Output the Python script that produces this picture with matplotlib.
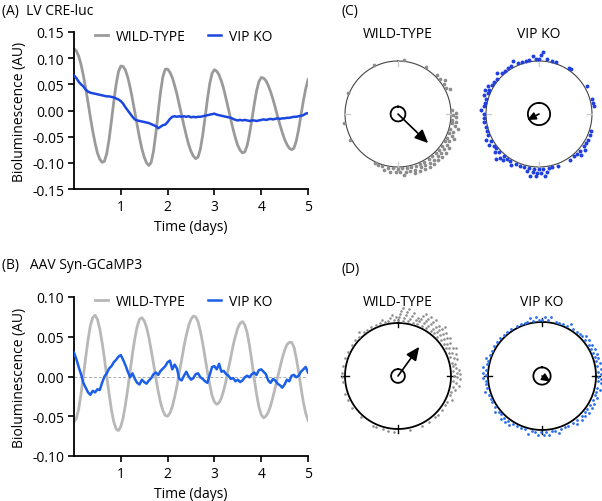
import numpy as np
import matplotlib
matplotlib.use("Agg")
import matplotlib.pyplot as plt

plt.rcParams["font.family"] = ["Open Sans", "DejaVu Sans"]
plt.rcParams["axes.unicode_minus"] = True

# ---- time series data (values read every 0.05 day, 0..5 days) ----
days = np.round(np.arange(0, 5.0001, 0.05), 2)

a_wt = [0.118, 0.114, 0.104, 0.088, 0.067, 0.042, 0.015, -0.013, -0.039, -0.062,
        -0.081, -0.093, -0.099, -0.097, -0.082, -0.055, -0.020, 0.017, 0.050, 0.074,
        0.085, 0.084, 0.077, 0.063, 0.044, 0.021, -0.003, -0.028, -0.052, -0.073,
        -0.089, -0.100, -0.105, -0.099, -0.077, -0.043, -0.002, 0.036, 0.065, 0.079,
        0.079, 0.073, 0.063, 0.048, 0.031, 0.011, -0.009, -0.029, -0.048, -0.065,
        -0.078, -0.087, -0.092, -0.089, -0.074, -0.047, -0.014, 0.021, 0.051, 0.071,
        0.078, 0.075, 0.068, 0.056, 0.041, 0.022, 0.003, -0.017, -0.036, -0.053,
        -0.067, -0.076, -0.081, -0.079, -0.067, -0.045, -0.018, 0.011, 0.037, 0.055,
        0.063, 0.062, 0.057, 0.048, 0.036, 0.022, 0.006, -0.011, -0.027, -0.042,
        -0.055, -0.065, -0.072, -0.075, -0.072, -0.058, -0.036, -0.009, 0.018, 0.041,
        0.059]

a_ko = [0.067, 0.062, 0.055, 0.050, 0.046, 0.040, 0.036, 0.034, 0.033, 0.032,
        0.031, 0.030, 0.029, 0.028, 0.027, 0.027, 0.026, 0.025, 0.023, 0.021,
        0.018, 0.013, 0.006, 0.000, -0.006, -0.012, -0.017, -0.019, -0.020, -0.021,
        -0.022, -0.023, -0.024, -0.026, -0.028, -0.030, -0.034, -0.031, -0.028, -0.027,
        -0.022, -0.016, -0.012, -0.011, -0.012, -0.011, -0.012, -0.011, -0.012, -0.011,
        -0.013, -0.012, -0.013, -0.012, -0.012, -0.011, -0.010, -0.009, -0.008, -0.007,
        -0.006, -0.008, -0.009, -0.010, -0.011, -0.012, -0.013, -0.014, -0.016, -0.018,
        -0.019, -0.018, -0.019, -0.018, -0.019, -0.020, -0.019, -0.019, -0.020, -0.019,
        -0.018, -0.017, -0.018, -0.017, -0.016, -0.017, -0.016, -0.015, -0.016, -0.015,
        -0.015, -0.014, -0.014, -0.013, -0.012, -0.012, -0.011, -0.010, -0.009, -0.006,
        -0.005]

b_wt = [-0.057, -0.053, -0.041, -0.022, 0.000, 0.024, 0.046, 0.064, 0.074, 0.077,
        0.072, 0.060, 0.043, 0.023, 0.000, -0.022, -0.042, -0.057, -0.066, -0.068,
        -0.063, -0.052, -0.035, -0.015, 0.007, 0.029, 0.048, 0.063, 0.072, 0.074,
        0.070, 0.062, 0.049, 0.033, 0.016, -0.002, -0.019, -0.033, -0.043, -0.049,
        -0.050, -0.046, -0.038, -0.026, -0.012, 0.005, 0.021, 0.038, 0.052, 0.064,
        0.072, 0.076, 0.075, 0.069, 0.057, 0.042, 0.024, 0.006, -0.010, -0.024,
        -0.032, -0.035, -0.033, -0.027, -0.017, -0.005, 0.010, 0.024, 0.039, 0.051,
        0.061, 0.067, 0.069, 0.065, 0.055, 0.039, 0.019, -0.002, -0.022, -0.038,
        -0.048, -0.052, -0.050, -0.045, -0.037, -0.026, -0.014, -0.001, 0.011, 0.023,
        0.033, 0.040, 0.043, 0.043, 0.037, 0.023, 0.006, -0.014, -0.032, -0.046,
        -0.055]

b_ko = [0.030, 0.022, 0.012, 0.003, -0.008, -0.014, -0.020, -0.023, -0.018, -0.020,
        -0.016, -0.017, -0.008, 0.000, 0.004, 0.010, 0.013, 0.018, 0.021, 0.025,
        0.027, 0.021, 0.014, 0.006, -0.001, 0.004, -0.003, -0.008, -0.010, -0.004,
        -0.007, -0.009, -0.005, -0.002, 0.003, 0.005, 0.002, 0.007, 0.010, 0.013,
        0.018, 0.020, 0.009, 0.015, 0.010, -0.003, -0.005, 0.001, 0.006, 0.000,
        -0.004, -0.002, 0.003, 0.004, -0.001, -0.003, -0.006, -0.008, 0.002, 0.012,
        0.013, 0.009, 0.016, 0.006, 0.007, 0.003, 0.001, -0.003, -0.002, -0.006,
        -0.004, -0.007, -0.005, -0.001, 0.001, -0.001, 0.003, 0.005, 0.002, 0.008,
        0.009, 0.006, 0.003, -0.005, -0.008, -0.003, -0.005, -0.009, -0.011, -0.014,
        -0.010, -0.004, -0.006, 0.001, 0.002, -0.001, 0.001, 0.006, 0.009, 0.012,
        0.005]

# ---- phase data (degrees, clockwise from top) ----
c_wt_phase = [6, 31, 45, 50, 54, 57, 61, 64, 242, 260, 293, 334,
              86, 89, 91, 93, 96, 98, 100, 102, 104, 106, 108, 110, 112, 114, 116,
              118, 120, 122, 124, 126, 127, 129, 131, 132, 134, 136, 137, 139, 141,
              142, 144, 146, 147, 149, 151, 152, 154, 156, 157, 159, 161, 163, 164,
              166, 168, 170, 172, 174, 176, 178, 180, 182, 185, 188, 191, 194, 197,
              201, 205]
c_ko_phase = [0, 2, 4, 8, 14, 18, 33, 36, 60, 74, 78, 82, 108, 112, 118, 122, 126,
              128, 132, 134, 137, 140, 146, 160, 166, 170, 172, 174, 176, 178, 180,
              182, 183, 185, 186, 188, 190, 192, 196, 200, 205, 209, 212, 215, 218,
              220, 222, 224, 226, 229, 232, 235, 238, 241, 244, 248, 252, 256, 262,
              266, 270, 274, 278, 282, 286, 289, 292, 294, 296, 299, 302, 306, 310,
              314, 318, 322, 326, 330, 334, 338, 342, 346, 350, 354, 357]
d_wt_phase = [0, 1, 2, 3, 4, 5, 6, 7, 8, 9, 10, 12, 13, 14, 16, 18, 19,
              20, 21, 22, 23, 24, 25, 26, 27, 28, 29, 30, 31, 32, 33, 34, 36, 37, 38, 39,
              40, 41, 42, 43, 44, 45, 46, 47, 48, 50, 51, 52, 54, 55, 57, 58,
              60, 61, 63, 64, 66, 67, 69, 70, 72, 74, 76, 78,
              80, 82, 84, 85, 87, 88, 90, 91, 93, 95, 97, 99,
              101, 104, 107, 110, 114, 118, 122, 128, 134, 138, 146, 155, 168,
              184, 190, 196, 203, 207, 222, 235, 244, 251,
              264, 269, 273, 280, 289, 296, 304, 310, 315, 318, 322, 326, 331, 337,
              341, 344, 347, 350, 352, 354, 356, 358]
d_ko_phase = [0, 3, 6, 9, 14, 18, 22, 26, 29, 33, 38, 42, 45, 48, 50, 53, 56, 58,
              61, 63, 66, 68, 70, 72, 75, 77, 80, 83, 86, 88,
              91, 93, 95, 97, 99, 102, 104, 107, 110, 112, 115, 118,
              121, 123, 126, 128, 130, 133, 135, 138, 141, 144, 147,
              152, 156, 160, 163, 167, 170, 173, 176, 178,
              181, 184, 187, 190, 194, 198, 202, 206,
              211, 214, 217, 219, 222, 224, 227, 230, 233, 236,
              242, 246, 250, 254, 258, 262, 265, 268,
              271, 273, 276, 279, 282, 285, 288, 292, 296,
              302, 307, 312, 317, 322, 327, 333, 338, 342, 345, 348, 351, 354, 357]

# mean vector (angle deg, length rel. to circle) and confidence circle radius
c_wt_vec, c_ko_vec = (134, 0.79), (243, 0.25)
d_wt_vec, d_ko_vec = (36, 0.68), (124, 0.19)
c_wt_ci, c_ko_ci, d_wt_ci, d_ko_ci = 0.14, 0.21, 0.13, 0.16

W, H = 602, 502
fig = plt.figure(figsize=(W / 100, H / 100), dpi=100)

GRAY_A, GRAY_B = "#9a9a9a", "#b8b8b8"
BLUE_A, BLUE_B = "#1b47e0", "#1a5fe8"


def px_axes(x0, y0, x1, y1, **kw):
    return fig.add_axes([x0 / W, 1 - y1 / H, (x1 - x0) / W, (y1 - y0) / H], **kw)


def trace_panel(ax, wt, ko, cwt, cko, ylim, yticks):
    ax.plot(days, wt, color=cwt, lw=2.0, label="WILD-TYPE", zorder=2)
    ax.plot(days, ko, color=cko, lw=1.8, label="VIP KO", zorder=3)
    ax.set_xlim(0, 5)
    ax.set_ylim(*ylim)
    ax.set_xticks([1, 2, 3, 4, 5])
    ax.set_yticks(yticks)
    ax.set_yticklabels([f"{v:.2f}" for v in yticks])
    for s in ["top", "right"]:
        ax.spines[s].set_visible(False)
    for s in ["left", "bottom"]:
        ax.spines[s].set_linewidth(1.3)
    ax.tick_params(direction="out", length=4, width=1.2, labelsize=10, pad=3)
    ax.set_xlabel("Time (days)", fontsize=10, labelpad=4)
    ax.set_ylabel("Bioluminescence (AU)", fontsize=10, labelpad=4)
    ax.legend(loc="upper center", bbox_to_anchor=(0.47, 1.1), ncol=2, frameon=False,
              fontsize=10, handlelength=0.9, handletextpad=0.6, columnspacing=1.6)


ax_a = px_axes(74, 33, 308, 190)
trace_panel(ax_a, a_wt, a_ko, GRAY_A, BLUE_A, (-0.15, 0.15),
            [-0.15, -0.10, -0.05, 0.0, 0.05, 0.10, 0.15])

ax_b = px_axes(74, 298, 308, 457)
ax_b.axhline(0, color="#aaaaaa", lw=0.7, ls=(0, (3, 2)), zorder=1)
trace_panel(ax_b, b_wt, b_ko, GRAY_B, BLUE_B, (-0.10, 0.10),
            [-0.10, -0.05, 0.0, 0.05, 0.10])

fig.text(2 / W, 1 - 12 / H, "(A)  LV CRE-luc", fontsize=10, va="center")
fig.text(2 / W, 1 - 266 / H, "(B)   AAV Syn-GCaMP3", fontsize=10, va="center")
fig.text(341 / W, 1 - 12 / H, "(C)", fontsize=10, va="center")
fig.text(341 / W, 1 - 270 / H, "(D)", fontsize=10, va="center")

RMAX = 1.4


def rose(cx, cy, r_px, phases, vec, ci, color, dot_s, r0, step, ring_lw, ring_col,
         tick_in, tick_out, tick_col, head, title, title_y):
    half = RMAX * r_px
    ax = px_axes(cx - half, cy - half, cx + half, cy + half, projection="polar")
    ax.set_theta_zero_location("N")
    ax.set_theta_direction(-1)
    ax.set_ylim(0, RMAX)
    ax.axis("off")
    circ = np.linspace(0, 2 * np.pi, 361)
    ax.plot(circ, np.ones_like(circ), color=ring_col, lw=ring_lw, zorder=2)
    ax.plot(circ, np.full_like(circ, ci), color="k", lw=1.3, zorder=4)
    for t in [0, 90, 180, 270]:
        ax.plot([np.deg2rad(t)] * 2, [tick_in, tick_out], color=tick_col, lw=1.0, zorder=2)
    # stack dots radially within 5-degree bins
    counts = {}
    th, rr = [], []
    for p in sorted(phases):
        b = int(p // 5)
        k = counts.get(b, 0)
        counts[b] = k + 1
        th.append(np.deg2rad(p))
        rr.append(r0 + step * k)
    ax.scatter(th, rr, s=dot_s, color=color, marker="o", lw=0, zorder=3, clip_on=False)
    ang, ln = vec
    ax.annotate("", xy=(np.deg2rad(ang), ln), xytext=(0, 0),
                arrowprops=dict(arrowstyle=f"-|>,head_length={head},head_width={head * 0.45}",
                                color="k", lw=1.2, shrinkA=0, shrinkB=0), zorder=5)
    fig.text(cx / W, 1 - title_y / H, title, fontsize=10, ha="center", va="center")


rose(398, 115, 53, c_wt_phase, c_wt_vec, c_wt_ci, "#8c8c8c", 7, 1.03, 0.066, 0.8,
     "#444444", 0.9, 1.0, "#cccccc", 0.8, "WILD-TYPE", 35)
rose(539, 115, 53, c_ko_phase, c_ko_vec, c_ko_ci, "#1f3fe0", 8, 1.04, 0.066, 0.8,
     "#444444", 0.9, 1.0, "#cccccc", 0.5, "VIP KO", 35)
rose(398, 377, 53, d_wt_phase, d_wt_vec, d_wt_ci, "#8e8e8e", 3.5, 1.05, 0.058, 1.3,
     "k", 0.92, 1.08, "k", 0.8, "WILD-TYPE", 303)
rose(542, 377, 54, d_ko_phase, d_ko_vec, d_ko_ci, "#2a6ee8", 4, 1.04, 0.058, 1.3,
     "k", 0.92, 1.08, "k", 0.5, "VIP KO", 303)

fig.savefig("out.png", dpi=100)
